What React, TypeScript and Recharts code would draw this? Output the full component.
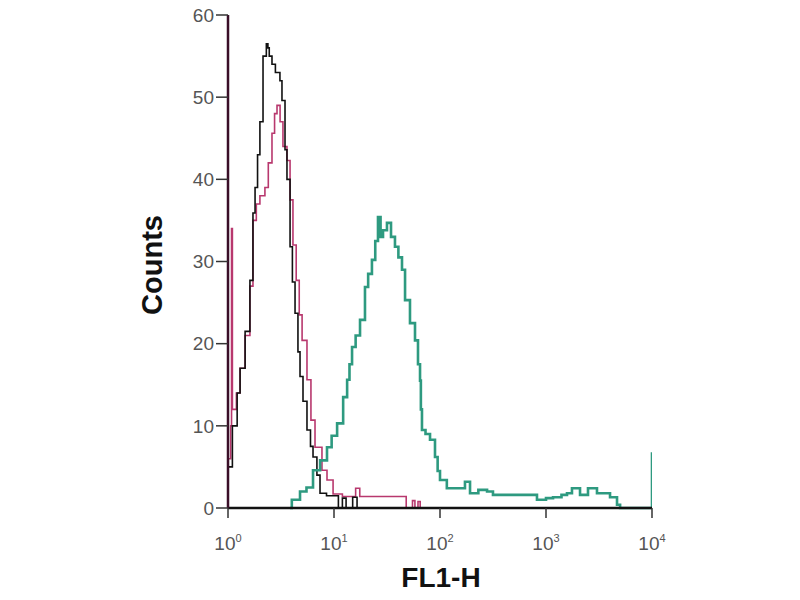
import * as React from "react";
import { LineChart, Line, XAxis, YAxis } from "recharts";

// FL1-H channel values (log axis) and counts per histogram
const isotypeX = [1.0, 1.1, 1.22, 1.3, 1.45, 1.61, 1.72, 1.8, 1.9, 2.0, 2.14, 2.3, 2.38, 2.45, 2.6, 2.8, 3.09, 3.23, 3.45, 3.6, 3.85, 4.05, 4.29, 4.57, 4.78, 5.1, 5.56, 6.0, 6.34, 6.9, 7.38, 8.5, 10.4, 11, 12, 13, 15, 16.5, 20];
const isotypeY = [5, 10, 14, 17, 21.5, 27.7, 35.9, 39, 43, 47, 55, 56.5, 56, 55, 54, 53, 52, 49.6, 43.6, 40, 31.8, 27.5, 23.7, 19, 16, 13, 9.5, 7.5, 6.2, 4, 1.8, 1.5, 1.5, 0, 1.2, 0, 1.3, 0, 0];

const controlX = [1.0, 1.06, 1.08, 1.1, 1.2, 1.3, 1.45, 1.61, 1.72, 1.85, 2.0, 2.23, 2.4, 2.6, 2.75, 2.9, 3.1, 3.3, 3.6, 3.85, 4.1, 4.4, 4.7, 5.0, 5.56, 6.06, 6.62, 7.7, 8.59, 9.8, 12, 15, 16, 17.5, 30, 46.8, 48, 55, 58, 62, 65, 72];
const controlY = [6, 10, 34, 12, 14, 17, 21, 27, 35, 37, 38, 39, 42, 45.6, 48, 49, 47, 44, 42.3, 37.5, 32, 27.7, 23.5, 20.4, 15.6, 10.7, 7.4, 4.6, 3.4, 1.7, 1.4, 1.4, 2.4, 1.4, 1.4, 1.4, 0, 0.9, 0, 0.8, 0, 0];

const stainedX = [3.85, 4.0, 4.78, 5.5, 6.34, 7.4, 8.59, 9.5, 10.7, 12.2, 13.3, 14.0, 14.8, 16.0, 17.6, 19.6, 21.0, 22.8, 24.5, 26.0, 27.5, 29.0, 31.6, 34.5, 37.6, 40.5, 43.8, 46.8, 52.1, 58.1, 62.0, 64.8, 66, 67.6, 73, 80.5, 89.7, 95, 100, 116, 155, 172, 192, 230, 278, 316, 707, 822, 1000, 1165, 1400, 1578, 1758, 2094, 2490, 3027, 4018, 4677, 5000, 10000];
const stainedY = [0, 1.0, 2, 2.5, 4.6, 5.8, 7.4, 8.8, 10.3, 13.5, 15.6, 17.5, 19.6, 21.0, 22.9, 26.9, 28.5, 30.2, 32.5, 35.4, 33.0, 33.8, 34.7, 33.0, 31.8, 30.5, 29, 25.3, 22.5, 20.4, 17.5, 15.5, 12, 9.5, 9.0, 8.3, 6.2, 4.5, 3.4, 2.4, 2.4, 3.2, 1.8, 2.2, 2.0, 1.6, 1.6, 1.0, 1.2, 1.3, 1.6, 1.8, 2.4, 1.6, 2.4, 1.8, 1.3, 0.4, 0, 6.8];

const xTicks = [1, 10, 100, 1000, 10000];
const yTicks = [0, 10, 20, 30, 40, 50, 60];

const toRows = (xs: number[], ys: number[]) => xs.map((x, i) => ({ x, y: ys[i] }));

function LogTick({ x, y, payload }: any) {
  const exp = Math.round(Math.log10(payload.value));
  return (
    <text x={x} y={y + 30} textAnchor="middle" fill="#555" fontSize={19} fontFamily="Liberation Sans, Arial, sans-serif">
      <tspan>10</tspan>
      <tspan dy={-8} fontSize={11}>{exp}</tspan>
    </text>
  );
}

export default function App() {
  return (
    <div style={{ position: "absolute", left: 0, top: 0, width: 800, height: 600, background: "#fff", fontFamily: "Liberation Sans, Arial, sans-serif" }}>
      <LineChart width={800} height={600} margin={{ top: 15, right: 148, bottom: 52, left: 168 }}>
        <XAxis
          dataKey="x"
          type="number"
          scale="log"
          domain={[1, 10000]}
          ticks={xTicks}
          allowDataOverflow
          height={40}
          tickSize={10}
          tickLine={{ stroke: "#333", strokeWidth: 1.5 }}
          axisLine={{ stroke: "#111", strokeWidth: 2.5 }}
          tick={<LogTick />}
        />
        <YAxis
          type="number"
          domain={[0, 60]}
          ticks={yTicks}
          width={60}
          tickSize={12}
          tickLine={{ stroke: "#333", strokeWidth: 1.5 }}
          axisLine={{ stroke: "#3a0f28", strokeWidth: 2.5 }}
          tick={{ fill: "#555", fontSize: 19 }}
        />
        <Line data={toRows(controlX, controlY)} dataKey="y" type="stepAfter" stroke="#b8386e" strokeWidth={1.6} dot={false} isAnimationActive={false} />
        <Line data={toRows(isotypeX, isotypeY)} dataKey="y" type="stepAfter" stroke="#111" strokeWidth={1.6} dot={false} isAnimationActive={false} />
        <Line data={toRows(stainedX, stainedY)} dataKey="y" type="stepAfter" stroke="#2e9a80" strokeWidth={2.6} dot={false} isAnimationActive={false} />
      </LineChart>
      <div style={{ position: "absolute", left: 152, top: 265, transform: "translate(-50%, -50%) rotate(-90deg)", fontSize: 29, fontWeight: "bold", color: "#111", whiteSpace: "nowrap" }}>
        Counts
      </div>
      <div style={{ position: "absolute", left: 441, top: 578, transform: "translate(-50%, -50%)", fontSize: 28, fontWeight: "bold", color: "#111", whiteSpace: "nowrap" }}>
        FL1-H
      </div>
    </div>
  );
}
